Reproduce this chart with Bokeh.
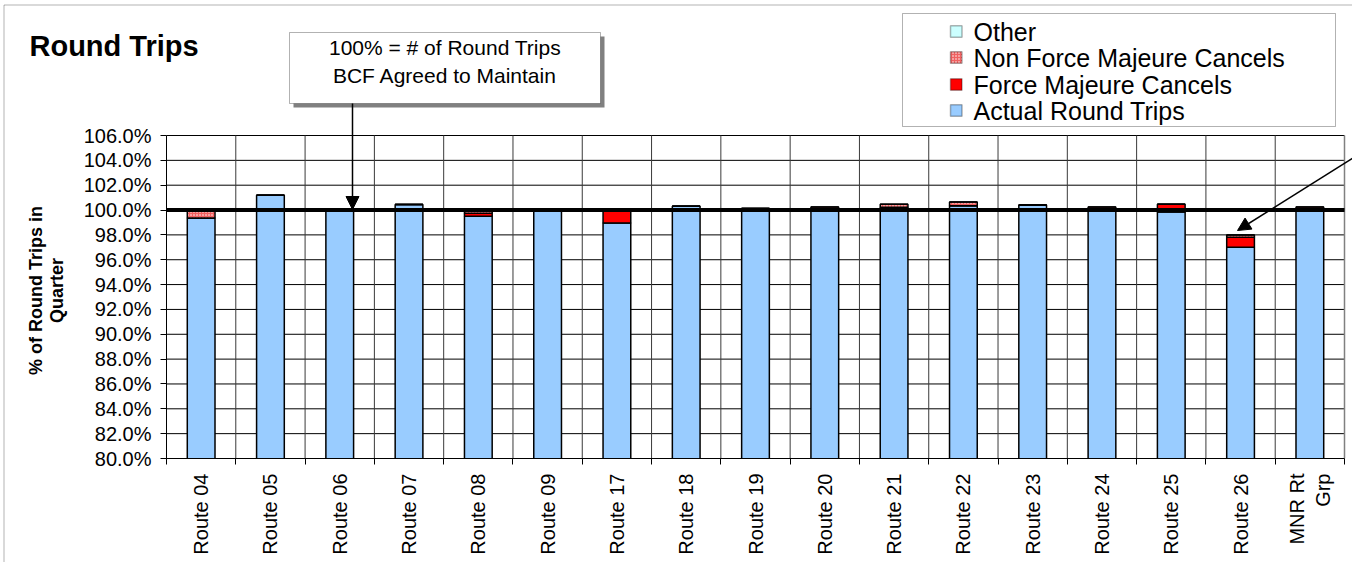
import math
from bokeh.plotting import figure
from bokeh.models import (Range1d, FixedTicker, NumeralTickFormatter, Label,
                          BoxAnnotation, Arrow, NormalHead)
from bokeh.embed import file_html
from bokeh.resources import INLINE

# ---------------- data ----------------
categories = ["Route 04", "Route 05", "Route 06", "Route 07", "Route 08", "Route 09",
              "Route 17", "Route 18", "Route 19", "Route 20", "Route 21", "Route 22",
              "Route 23", "Route 24", "Route 25", "Route 26", "MNR Rt\nGrp"]
actual_round_trips = [0.9935, 1.0120, 1.0000, 1.0045, 0.9950, 1.0005, 0.9895, 1.0030, 1.0012,
                      0.9995, 1.0022, 1.0035, 1.0040, 0.9998, 0.9985, 0.9700, 0.9995]
force_majeure = [0.0000, 0.0000, 0.0000, 0.0000, 0.0025, 0.0000, 0.0105, 0.0000, 0.0000,
                 0.0015, 0.0000, 0.0000, 0.0000, 0.0012, 0.0062, 0.0080, 0.0015]
non_force_majeure = [0.0060, 0.0000, 0.0000, 0.0000, 0.0028, 0.0000, 0.0005, 0.0000, 0.0000,
                     0.0015, 0.0025, 0.0030, 0.0000, 0.0015, 0.0000, 0.0020, 0.0015]
other = [0.0] * len(categories)
series_names = ["Actual Round Trips", "Force Majeure Cancels", "Non Force Majeure Cancels", "Other"]
target_level = 1.0
y_min, y_max = 0.80, 1.06
y_ticks = [0.80 + 0.02 * i for i in range(14)]

# ---------------- layout (picture pixels) ----------------
FONT = "Liberation Sans"
W, H = 1352, 562
PL, PR, PT, PB = 166, 1344, 135, 458   # plot area

n = len(categories)
centers = [i + 0.5 for i in range(n)]
bounds = [float(i) for i in range(n + 1)]

ppx = (PR - PL) / n
ppy = (PB - PT) / (y_max - y_min)
x_range = Range1d(-PL / ppx, n + (W - PR) / ppx)
y_range = Range1d(y_min - (H - PB) / ppy, y_max + PT / ppy)

p = figure(width=W, height=H, output_backend="svg", toolbar_location=None,
           x_range=x_range, y_range=y_range,
           min_border_left=0, min_border_right=0, min_border_top=0, min_border_bottom=0)
p.background_fill_color = "white"
p.border_fill_color = "white"
p.outline_line_color = None
p.grid.visible = False

def fx(px):  # picture x -> screen x
    return px
def fy(py):  # picture y -> screen y (upward from bottom)
    return H - py

def sbox(x0, x1, y0, y1, **kw):
    return BoxAnnotation(left=fx(x0), right=fx(x1), top=fy(y0), bottom=fy(y1),
                         left_units="screen", right_units="screen", top_units="screen",
                         bottom_units="screen", **kw)

# outer chart border
p.add_layout(sbox(3.5, W + 50, 4.5, H + 50, fill_alpha=0, line_color="black", line_width=1))

# grid lines of the plot area
p.segment(x0=[0] * len(y_ticks), x1=[n] * len(y_ticks), y0=y_ticks, y1=y_ticks,
          line_color="black", line_width=1)
p.segment(x0=bounds[1:-1], x1=bounds[1:-1], y0=[y_min] * (n - 1), y1=[y_max] * (n - 1),
          line_color="#3a3a3a", line_width=1)
p.segment(x0=[n], x1=[n], y0=[y_min], y1=[y_max], line_color="#808080", line_width=1.5)

# stacked bars
fills = ["#99CCFF", "#FF0000", "#F06060", "#CCFFFF"]
src = dict(x=centers, actual=actual_round_trips, fm=force_majeure, nfm=non_force_majeure, other=other)
keys = ["actual", "fm", "nfm", "other"]
rs = p.vbar_stack(keys, x="x", width=0.4, source=src, fill_color=fills,
                  line_color="black", line_width=1.5)
rs[2].glyph.hatch_pattern = "dot"
rs[2].glyph.hatch_color = "white"
rs[2].glyph.hatch_scale = 3
# hide the portion below the axis
p.add_layout(BoxAnnotation(bottom=y_range.start, top=y_min, fill_color="white", fill_alpha=1,
                           line_alpha=0, level="glyph"))

# 100% reference line
p.segment(x0=[0], x1=[n], y0=[target_level], y1=[target_level], line_color="black", line_width=4)

# axes at fixed locations
p.yaxis.fixed_location = 0
p.yaxis.bounds = (y_min, y_max)
p.yaxis.ticker = FixedTicker(ticks=y_ticks)
p.yaxis.formatter = NumeralTickFormatter(format="0.0%")
p.yaxis.major_label_text_font = FONT
p.yaxis.major_label_text_font_size = "20px"
p.yaxis.major_label_text_color = "black"
p.yaxis.major_tick_out = 6
p.yaxis.major_tick_in = 0
p.yaxis.minor_tick_out = 0
p.yaxis.minor_tick_in = 0
p.yaxis.major_label_standoff = 9
p.yaxis.axis_line_color = "black"
p.yaxis.major_tick_line_color = "black"

p.xaxis.fixed_location = y_min
p.xaxis.bounds = (0, n)
p.xaxis.ticker = FixedTicker(ticks=centers, minor_ticks=bounds)
p.xaxis.major_label_overrides = {c: lab for c, lab in zip(centers, categories)}
p.xaxis.major_label_orientation = math.pi / 2
p.xaxis.major_label_text_font = FONT
p.xaxis.major_label_text_font_size = "20px"
p.xaxis.major_label_text_color = "black"
p.xaxis.major_tick_out = 0
p.xaxis.major_tick_in = 0
p.xaxis.minor_tick_out = 6
p.xaxis.minor_tick_in = 0
p.xaxis.minor_tick_line_color = "black"
p.xaxis.major_label_standoff = 9
p.xaxis.axis_line_color = "black"

# title
p.add_layout(Label(x=fx(29), y=fy(45), x_units="screen", y_units="screen", text="Round Trips",
                   text_font=FONT, text_font_size="29px", text_font_style="bold",
                   text_color="black", text_baseline="middle", text_align="left"))

# y axis label (two lines)
for txt, xx in [("% of Round Trips in", 35), ("Quarter", 56)]:
    p.add_layout(Label(x=fx(xx), y=fy(290), x_units="screen", y_units="screen", text=txt,
                       angle=math.pi / 2, text_font=FONT, text_font_size="18px",
                       text_font_style="bold", text_color="black",
                       text_align="center", text_baseline="middle"))

# annotation box with shadow
bx0, bx1, by0, by1 = 289, 600, 32, 103
p.add_layout(sbox(bx0 + 4, bx1 + 4, by0 + 4, by1 + 4, fill_color="#808080", fill_alpha=1, line_alpha=0))
p.add_layout(sbox(bx0, bx1, by0, by1, fill_color="white", fill_alpha=1, line_color="black", line_width=1))
for txt, yy in [("100% = # of Round Trips", 47), ("BCF Agreed to Maintain", 75)]:
    p.add_layout(Label(x=fx((bx0 + bx1) / 2), y=fy(yy), x_units="screen", y_units="screen", text=txt,
                       text_font=FONT, text_font_size="21px", text_color="black",
                       text_align="center", text_baseline="middle"))

# arrows
p.add_layout(Arrow(x_start=fx(352), y_start=fy(by1), x_end=fx(352), y_end=fy(209),
                   start_units="screen", end_units="screen", line_width=1.5,
                   end=NormalHead(size=13, fill_color="black", line_color="black")))
p.add_layout(Arrow(x_start=fx(1366), y_start=fy(149), x_end=fx(1237), y_end=fy(230),
                   start_units="screen", end_units="screen", line_width=1.5,
                   end=NormalHead(size=13, fill_color="black", line_color="black")))

# legend (box, swatches, labels) - top to bottom: Other, NFM, FM, Actual
p.add_layout(sbox(902, 1335, 13, 126, fill_color="white", fill_alpha=1, line_color="black", line_width=1))
row_y = [31, 57, 84, 110]
for k, i in enumerate([3, 2, 1, 0]):
    cy = row_y[k]
    kw = dict(fill_color=fills[i], fill_alpha=1, line_color="black", line_width=1.5)
    if i == 2:
        kw.update(hatch_pattern="dot", hatch_color="white", hatch_scale=3)
    p.add_layout(sbox(950, 961.5, cy - 5.75, cy + 5.75, **kw))
    p.add_layout(Label(x=fx(973), y=fy(cy), x_units="screen", y_units="screen", text=series_names[i],
                       text_font=FONT, text_font_size="25px", text_color="black",
                       text_align="left", text_baseline="middle"))

open("out.html", "w").write(file_html(p, INLINE))
